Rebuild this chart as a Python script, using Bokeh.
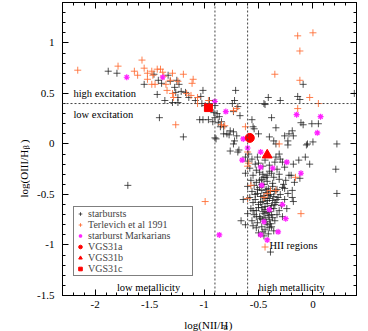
import numpy as np
from math import pi
from bokeh.plotting import figure
from bokeh.layouts import row, column
from bokeh.models import (Span, Label, Legend, LegendItem, LinearAxis, FixedTicker, Range1d)
from bokeh.core.properties import value
from bokeh.embed import file_html
from bokeh.resources import INLINE

# ---------------- data ----------------
starburst_x = [-1.88, -1.80, -1.55, -1.46, -1.42, -1.39, -1.43, -1.36, -1.41, -1.33, -1.31, -1.27, -1.25,
               -1.23, -1.26, -1.24, -1.29, -1.24, -1.21, -1.19, -1.70, -1.17, -1.14, -1.08, -1.03, -1.01,
               -1.02, -0.99, -0.95, -0.90, -0.91, -0.88, -0.90, -0.86, -0.87, -0.84, -0.85, -0.82, -0.79,
               -0.76, -0.73, -0.70, -1.04, -1.01, -0.96, -0.92, -0.90, -0.89, -0.77, -0.72, -0.73, -0.68,
               -0.76, -0.69, -0.82, -0.71, -0.72, -0.74, -0.69, -0.73, -0.67,
               -0.56, -0.54, -0.55, -0.50, -0.45, -0.41, -0.44, -0.30, -0.38, -0.34, -0.40, -0.36, -0.26,
               -0.22, -0.19, -0.18, -0.23, -0.23, -0.34, -0.14, -0.12, -0.09, -0.11, -0.09, -0.01, 0.05,
               -0.06, -0.05, 0.00, 0.22, -0.07, -0.03, -0.13, -0.18, -0.28, -0.34, -0.31, 0.21, 0.22,
               -0.17, -0.19, -0.19, -0.25, -0.62, -0.55, -0.39, 0.38,
               -0.62, -0.59, -0.51, -0.53, -0.42, -0.36, -0.20, -0.12, -0.26, -0.23, -0.18, -0.24,
               -0.60, -0.56, -0.50, -0.44, -0.35, -0.30, -0.58, -0.52, -0.46, -0.40, -0.33, -0.26,
               -0.62, -0.55, -0.49, -0.45, -0.38, -0.31, -0.22,
               -0.57, -0.52, -0.47, -0.42, -0.37, -0.31, -0.27,
               -0.60, -0.54, -0.49, -0.45, -0.41, -0.37, -0.33, -0.28,
               -0.56, -0.51, -0.47, -0.43, -0.39, -0.35, -0.30,
               -0.58, -0.53, -0.48, -0.44, -0.41, -0.37, -0.32, -0.26,
               -0.55, -0.50, -0.46, -0.42, -0.38, -0.34, -0.29,
               -0.57, -0.52, -0.47, -0.44, -0.40, -0.36, -0.31,
               -0.54, -0.49, -0.45, -0.41, -0.37, -0.33, -0.28,
               -0.56, -0.51, -0.46, -0.43, -0.39, -0.35,
               -0.52, -0.47, -0.44, -0.40, -0.36,
               -0.50, -0.45, -0.41, -0.66, -0.60, -0.64,
               -0.47, -0.43, -0.39, -0.45, -0.42, -0.48, -0.40, -0.36, -0.44, -0.39,
               -0.46, -0.42, -0.38, -0.44, -0.40, -0.48, -0.42, -0.46, -0.38, -0.50,
               -0.53, -0.35, -0.33, -0.49, -0.43, -0.40, -0.46, -0.51, -0.55, -0.52]
starburst_y = [0.72, 0.70, 0.59, 0.69, 0.63, 0.60, 0.49, 0.43, 0.26, 0.68, 0.62, 0.56, 0.63,
               0.59, 0.51, 0.46, 0.41, 0.41, 0.52, 0.07, -0.41, 0.51, 0.46, 0.43, 0.47, 0.53,
               0.40, 0.38, 0.43, 0.38, 0.31, 0.30, 0.26, 0.27, 0.21, 0.22, 0.17, 0.10, 0.10,
               0.13, 0.12, 0.08, 0.24, 0.24, 0.24, 0.22, 0.06, 0.05, 0.09, 0.03, 0.00, -0.06,
               -0.07, -0.08, 0.17, 0.53, 0.43, 0.40, 0.37, 0.32, 0.28,
               0.24, 0.15, 0.17, 0.10, 0.40, 0.46, 0.39, 0.43, 0.26, 0.16, 0.07, 0.03, 0.08,
               0.10, 0.13, 0.08, 0.03, -0.01, 0.00, 0.47, 0.44, 0.59, 0.21, 0.19, 0.20, 0.20,
               -0.01, 0.00, 0.02, 0.00, -0.13, -0.20, -0.16, -0.20, -0.18, -0.13, -0.10, -0.25, -0.49,
               -0.38, -0.46, -0.53, -0.36, -0.80, -0.81, -1.07, 0.50,
               -0.13, -0.10, -0.13, -0.20, -0.31, -0.33, -0.31, -0.34, -0.44, -0.49, -0.57, -0.64,
               -0.17, -0.15, -0.19, -0.16, -0.18, -0.15, -0.24, -0.26, -0.22, -0.21, -0.25, -0.23,
               -0.29, -0.31, -0.28, -0.33, -0.29, -0.30, -0.31,
               -0.36, -0.38, -0.35, -0.37, -0.39, -0.35, -0.40,
               -0.42, -0.41, -0.43, -0.40, -0.44, -0.42, -0.45, -0.43,
               -0.47, -0.49, -0.46, -0.48, -0.50, -0.47, -0.50,
               -0.53, -0.55, -0.52, -0.54, -0.51, -0.56, -0.53, -0.55,
               -0.58, -0.60, -0.57, -0.59, -0.61, -0.58, -0.61,
               -0.64, -0.66, -0.63, -0.65, -0.67, -0.64, -0.66,
               -0.70, -0.72, -0.69, -0.71, -0.73, -0.70, -0.72,
               -0.76, -0.78, -0.75, -0.77, -0.79, -0.76,
               -0.83, -0.82, -0.85, -0.83, -0.86,
               -0.88, -0.91, -0.89, -0.76, -0.69, -0.55,
               -0.40, -0.45, -0.47, -0.51, -0.56, -0.58, -0.54, -0.52, -0.62, -0.64,
               -0.67, -0.68, -0.70, -0.73, -0.75, -0.74, -0.80, -0.87, -0.82, -0.63,
               -0.50, -0.60, -0.55, -0.36, -0.33, -0.27, -0.30, -0.45, -0.66, -0.72]

terlevich_x = [-2.16, -1.79, -1.57, -1.55, -1.64, -1.61, -1.52, -1.48, -1.47, -1.43, -1.40, -1.38, -1.37,
               -1.35, -1.31, -1.48, -1.45, -1.52, -1.34, -1.29, -1.28, -1.26, -1.29, -1.19, -1.10, -1.24,
               -1.11, -1.16, -1.12, -1.06, -1.06, -0.96, -0.73, -0.70, -0.62, -0.84, -0.81, -0.35, -0.14,
               0.00, -0.12, -0.12, -0.03, 0.05, -0.14, -0.99, -0.60, -0.60, -0.11, -0.44, -0.34, -0.42,
               -0.60, -0.59, -0.57, -0.39, -0.16, -0.31, -0.45]
terlevich_y = [0.73, 0.77, 0.83, 0.75, 0.72, 0.68, 0.70, 0.72, 0.68, 0.74, 0.74, 0.71, 0.67,
               0.59, 0.63, 0.59, 0.59, 0.64, 0.53, 0.50, 0.46, 0.19, 0.70, 0.69, 0.64, 0.62,
               0.60, 0.50, 0.48, 0.46, 0.40, 0.43, 0.33, 0.35, 0.17, 0.19, 0.18, 0.69, 1.07,
               1.10, 0.92, 0.63, 0.46, 0.40, 0.35, -0.57, -0.54, -0.22, -0.69, -1.02, -0.46, -0.49,
               -0.08, -0.19, -0.41, -0.46, -0.33, 0.00, -0.53]

markarian_x = [-1.71, -1.38, -0.90, -0.80, -0.15, 0.07, 0.04, -0.64, -0.60, -0.48, -0.65, -0.48,
               -0.37, -0.24, -0.11, -0.47, -0.28, -0.40, -0.25, -0.45, -0.32, -0.48, -0.42, -0.86]
markarian_y = [0.66, 0.66, 0.42, 0.32, 0.29, 0.27, 0.11, 0.05, -0.04, -0.08, -0.16, -0.23,
               -0.24, -0.18, -0.29, -0.41, -0.60, -0.65, -0.74, -0.77, -0.87, -0.90, -0.95, -0.90]

vgs31a_x, vgs31a_y = [-0.58], [0.06]
vgs31b_x, vgs31b_y = [-0.42], [-0.11]
vgs31c_x, vgs31c_y = [-0.96], [0.36]

x_ticks = [-2, -1.5, -1, -0.5, 0]
x_tick_labels = ["-2", "-1.5", "-1", "-0.5", "0"]
y_ticks = [-1.5, -1, -0.5, 0, 0.5, 1]
y_tick_labels = ["-1.5", "-1", "-0.5", "0", "0.5", "1"]

excitation_line = 0.4
metallicity_lines = [-0.9, -0.6]

FONT = "Liberation Serif"

# ---------------- main figure ----------------
p = figure(width=338, height=314, x_range=Range1d(-2.3, 0.4), y_range=Range1d(-1.5, 1.4),
           output_backend="svg", toolbar_location=None, title=None,
           min_border_left=32, min_border_right=12, min_border_top=2, min_border_bottom=19)
p.xgrid.visible = False
p.ygrid.visible = False
p.outline_line_color = "black"
p.outline_line_width = 1
p.background_fill_color = "white"

x_minor = [round(v, 1) for v in np.arange(-2.3, 0.45, 0.1)]
y_minor = [round(v, 1) for v in np.arange(-1.5, 1.45, 0.1)]


def style_axis(ax, labels=True, ticks=None, tick_labels=None):
    ax.major_tick_in = 6
    ax.major_tick_out = 0
    ax.minor_tick_in = 3
    ax.minor_tick_out = 0
    ax.axis_line_color = "black"
    ax.major_tick_line_color = "black"
    ax.minor_tick_line_color = "black"
    if labels:
        ax.major_label_text_font = FONT
        ax.major_label_text_font_size = "11px"
        ax.major_label_text_color = "black"
        ax.major_label_overrides = {float(t): l for t, l in zip(ticks, tick_labels)}
    else:
        ax.major_label_text_font_size = "1px"
        ax.major_label_text_color = None
        ax.major_label_standoff = 0


p.xaxis.ticker = FixedTicker(ticks=x_ticks, minor_ticks=x_minor)
p.yaxis.ticker = FixedTicker(ticks=y_ticks, minor_ticks=y_minor)
style_axis(p.xaxis[0], True, x_ticks, x_tick_labels)
style_axis(p.yaxis[0], True, y_ticks, y_tick_labels)
p.xaxis.major_label_standoff = 5
p.yaxis.major_label_standoff = 8

top = LinearAxis(ticker=FixedTicker(ticks=x_ticks, minor_ticks=x_minor))
style_axis(top, labels=False)
p.add_layout(top, "above")
right = LinearAxis(ticker=FixedTicker(ticks=y_ticks, minor_ticks=y_minor))
style_axis(right, labels=False)
p.add_layout(right, "right")

# reference lines
p.add_layout(Span(location=excitation_line, dimension="width", line_color="#444444",
                  line_dash="2 2", line_width=1))
for loc in metallicity_lines:
    p.add_layout(Span(location=loc, dimension="height", line_color="#444444",
                      line_dash="2 2", line_width=1))

# data
r_sb = p.scatter(starburst_x, starburst_y, marker="cross", size=7, line_color="#1a1a1a",
                 line_alpha=0.75, line_width=1)
r_tr = p.scatter(terlevich_x, terlevich_y, marker="cross", size=7, line_color="#ff6a30",
                 line_alpha=0.85, line_width=1)
r_mk = p.scatter(markarian_x, markarian_y, marker="asterisk", size=6, line_color="#ff22ff",
                 line_width=1.2)
r_a = p.scatter(vgs31a_x, vgs31a_y, marker="circle", size=9, color="#ff0000")
r_b = p.scatter(vgs31b_x, vgs31b_y, marker="triangle", size=10, color="#ff0000")
r_c = p.scatter(vgs31c_x, vgs31c_y, marker="square", size=8, color="#ff0000")

legend = Legend(items=[
    LegendItem(label="starbursts", renderers=[r_sb]),
    LegendItem(label="Terlevich et al 1991", renderers=[r_tr]),
    LegendItem(label="starburst Markarians", renderers=[r_mk]),
    LegendItem(label="VGS31a", renderers=[r_a]),
    LegendItem(label="VGS31b", renderers=[r_b]),
    LegendItem(label="VGS31c", renderers=[r_c]),
], location=(11, 19))
legend.label_text_font = FONT
legend.label_text_font_size = "10px"
legend.label_height = 9
legend.label_width = 103
legend.glyph_height = 9
legend.glyph_width = 10
legend.spacing = 0
legend.padding = 1
legend.margin = 0
legend.label_standoff = 3
legend.border_line_color = "black"
legend.border_line_width = 1
legend.background_fill_alpha = 1
p.add_layout(legend)


def note(x, y, t):
    p.add_layout(Label(x=x, y=y, text=t, text_font=FONT, text_font_size="10.5px",
                       text_baseline="middle", text_align="left", text_color="black"))


note(-2.2, 0.5, "high excitation")
note(-2.2, 0.29, "low excitation")
note(-0.40, -1.01, "HII regions")
note(-1.80, -1.42, "low metallicity")
note(-0.50, -1.42, "high metallicity")


# ---------------- axis title strips ----------------
def strip(w, h):
    f = figure(width=w, height=h, x_range=Range1d(0, w), y_range=Range1d(0, h),
               output_backend="svg", toolbar_location=None, title=None,
               x_axis_location=None, y_axis_location=None, min_border=0)
    f.outline_line_color = None
    f.grid.visible = False
    return f


xt_fig = strip(338, 17)
xt_fig.text(x=[140], y=[6.5], text=["log(NII/H"], text_font=value(FONT),
            text_font_size=value("11px"), text_baseline=value("alphabetic"), text_color="black")
xt_fig.text(x=[185], y=[4], text=["\u03b1"], text_font=value(FONT),
            text_font_size=value("8px"), text_baseline=value("alphabetic"), text_color="black")
xt_fig.text(x=[191], y=[6.5], text=[")"], text_font=value(FONT),
            text_font_size=value("11px"), text_baseline=value("alphabetic"), text_color="black")

yt_fig = strip(30, 331)
yt_fig.text(x=[23.5], y=[134], text=["log(OIII/H"], angle=pi / 2, text_font=value(FONT),
            text_font_size=value("11px"), text_baseline=value("alphabetic"), text_color="black")
yt_fig.text(x=[26], y=[182.2], text=["\u03b2"], angle=pi / 2, text_font=value(FONT),
            text_font_size=value("8px"), text_baseline=value("alphabetic"), text_color="black")
yt_fig.text(x=[23.5], y=[188.3], text=[")"], angle=pi / 2, text_font=value(FONT),
            text_font_size=value("11px"), text_baseline=value("alphabetic"), text_color="black")

layout = row(yt_fig, column(p, xt_fig, spacing=0), spacing=0)

open("out.html", "w").write(file_html(layout, INLINE))
